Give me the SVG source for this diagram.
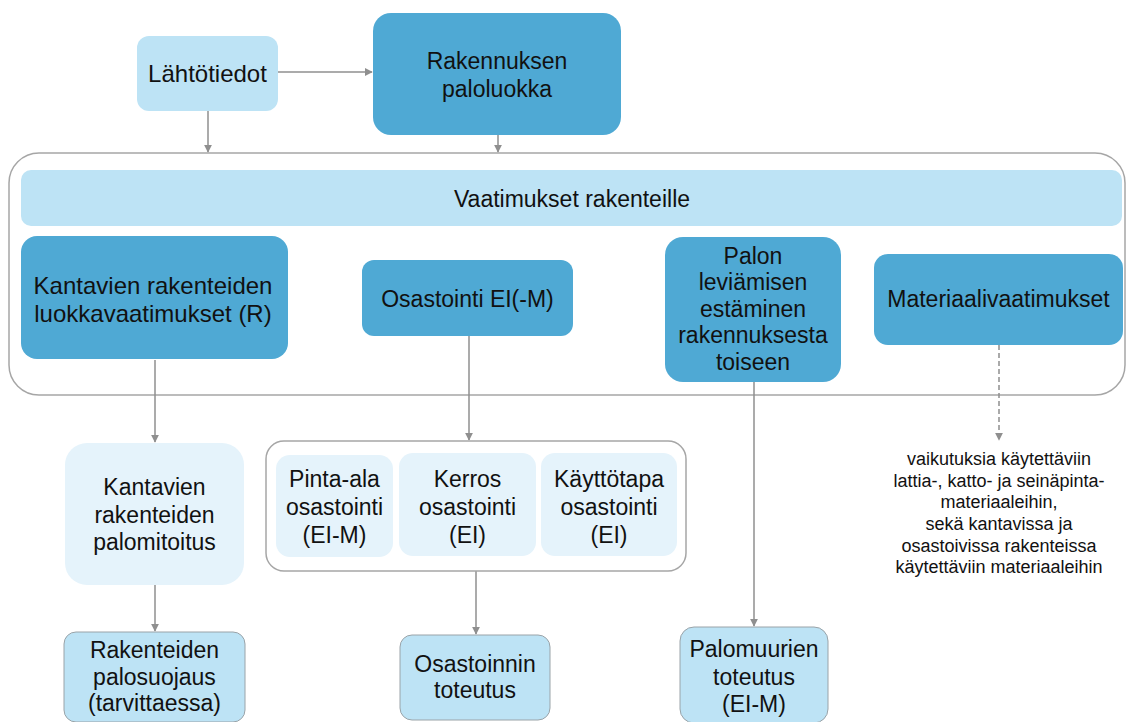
<svg xmlns="http://www.w3.org/2000/svg" width="1127" height="722" viewBox="0 0 1127 722">
<defs>
<style>
text{font-family:"Liberation Sans",Arial,sans-serif;fill:#111;text-anchor:middle}
.t{font-size:23px}
.b{font-size:24px}
.s{font-size:18px}
.dark{fill:#4fa9d4}
.light{fill:#bde3f5}
.pale{fill:#e5f3fb}
.out{fill:#bde3f5;stroke:#9aa3a8;stroke-width:1}
.frame{fill:#fff;stroke:#a6a6a6;stroke-width:1.5}
.c{stroke:#8f8f8f;stroke-width:1.5;fill:none;marker-end:url(#ah)}
.d{stroke-dasharray:5 3}
</style>
<marker id="ah" viewBox="0 0 10 10" refX="9" refY="5" markerWidth="8" markerHeight="8" markerUnits="userSpaceOnUse" orient="auto">
<path d="M0,0 L10,5 L0,10 z" fill="#8f8f8f"/>
</marker>
</defs>
<rect width="1127" height="722" fill="#fff"/>
<g id="container-main"><rect class="frame" x="9" y="153" width="1116" height="242" rx="30"/></g>
<g id="connectors">
<line class="c" x1="278" y1="72" x2="372" y2="72"/>
<line class="c" x1="208" y1="111" x2="208" y2="152"/>
<line class="c" x1="498" y1="135" x2="498" y2="152"/>
<line class="c" x1="155" y1="360" x2="155" y2="442"/>
<line class="c" x1="155" y1="585" x2="155" y2="631"/>
<line class="c" x1="469" y1="336" x2="469" y2="440"/>
<line class="c" x1="476" y1="571" x2="476" y2="634"/>
<line class="c" x1="754" y1="382" x2="754" y2="626"/>
<line class="c d" x1="999" y1="345" x2="999" y2="440"/>
</g>
<g id="lahtotiedot"><rect class="light" x="137" y="36" width="141" height="75" rx="12"/><text class="b" x="207.5" y="82">Lähtötiedot</text></g>
<g id="paloluokka"><rect class="dark" x="373" y="13" width="248" height="122" rx="18"/><text class="t" x="497" y="69">Rakennuksen</text><text class="t" x="497" y="97">paloluokka</text></g>
<g id="vaatimukset"><rect class="light" x="21" y="170" width="1101" height="56" rx="10"/><text class="t" x="572" y="207">Vaatimukset rakenteille</text></g>
<g id="kantavien-r"><rect class="dark" x="21" y="236" width="267" height="123" rx="16"/><text class="b" x="153" y="294">Kantavien rakenteiden</text><text class="b" x="153" y="322">luokkavaatimukset (R)</text></g>
<g id="osastointi"><rect class="dark" x="362" y="260" width="211" height="76" rx="12"/><text class="t" x="467.5" y="307">Osastointi EI(-M)</text></g>
<g id="palon-leviaminen"><rect class="dark" x="665" y="237" width="176" height="145" rx="18"/><text class="t" x="753" y="264">Palon</text><text class="t" x="753" y="290">leviämisen</text><text class="t" x="753" y="317">estäminen</text><text class="t" x="753" y="343">rakennuksesta</text><text class="t" x="753" y="370">toiseen</text></g>
<g id="materiaalivaatimukset"><rect class="dark" x="874" y="254" width="249" height="91" rx="14"/><text class="t" x="998.5" y="307">Materiaalivaatimukset</text></g>
<g id="palomitoitus"><rect class="pale" x="65" y="443" width="179" height="142" rx="22"/><text class="t" x="154.5" y="495">Kantavien</text><text class="t" x="154.5" y="523">rakenteiden</text><text class="t" x="154.5" y="550">palomitoitus</text></g>
<g id="osastointi-group"><rect class="frame" x="266" y="441" width="420" height="130" rx="18"/></g>
<g id="pinta-ala"><rect class="pale" x="276" y="455" width="117" height="102" rx="14"/><text class="t" x="334.5" y="487">Pinta-ala</text><text class="t" x="334.5" y="515">osastointi</text><text class="t" x="334.5" y="543">(EI-M)</text></g>
<g id="kerros"><rect class="pale" x="399" y="453" width="137" height="103" rx="14"/><text class="t" x="467.5" y="487">Kerros</text><text class="t" x="467.5" y="515">osastointi</text><text class="t" x="467.5" y="543">(EI)</text></g>
<g id="kayttotapa"><rect class="pale" x="541" y="453" width="136" height="103" rx="14"/><text class="t" x="609" y="487">Käyttötapa</text><text class="t" x="609" y="515">osastointi</text><text class="t" x="609" y="543">(EI)</text></g>
<g id="palosuojaus"><rect class="out" x="64" y="632" width="181" height="90" rx="12"/><text class="t" x="154.5" y="658">Rakenteiden</text><text class="t" x="154.5" y="685">palosuojaus</text><text class="t" x="154.5" y="711">(tarvittaessa)</text></g>
<g id="osastoinnin-toteutus"><rect class="out" x="400" y="635" width="150" height="85" rx="12"/><text class="t" x="475" y="672">Osastoinnin</text><text class="t" x="475" y="698">toteutus</text></g>
<g id="palomuurien-toteutus"><rect class="out" x="680" y="627" width="148" height="96" rx="14"/><text class="t" x="754" y="657">Palomuurien</text><text class="t" x="754" y="685">toteutus</text><text class="t" x="754" y="712">(EI-M)</text></g>
<g id="vaikutuksia"><text class="s" x="999" y="465">vaikutuksia käytettäviin</text><text class="s" x="999" y="487">lattia-, katto- ja seinäpinta-</text><text class="s" x="999" y="508">materiaaleihin,</text><text class="s" x="999" y="530">sekä kantavissa ja</text><text class="s" x="999" y="552">osastoivissa rakenteissa</text><text class="s" x="999" y="573">käytettäviin materiaaleihin</text></g>
</svg>
